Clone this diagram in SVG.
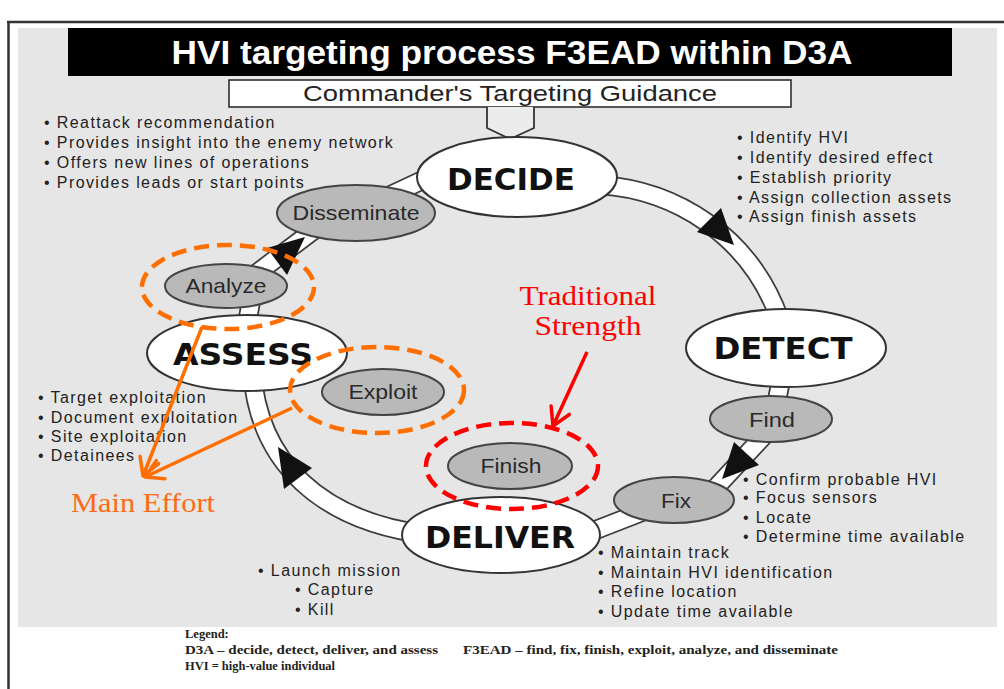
<svg xmlns="http://www.w3.org/2000/svg" width="1004" height="689" viewBox="0 0 1004 689">
<defs>
<style>
.band-o{fill:none;stroke:#3c3c3c;stroke-width:20}
.band-i{fill:none;stroke:#fff;stroke-width:16.5}
.tri{fill:#111}
.big{fill:#fff;stroke:#333;stroke-width:2}
.small{fill:#b9b9b9;stroke:#444;stroke-width:2}
.bl{font-family:"DejaVu Sans","Liberation Sans",sans-serif;font-weight:bold;font-size:30px;fill:#111;text-anchor:middle}
.sl{font-family:"Liberation Sans",Arial,sans-serif;font-size:21px;fill:#2a2a2a;text-anchor:middle}
.li{font-family:"Liberation Sans",Arial,sans-serif;font-size:16px;fill:#222;letter-spacing:1.4px}
.or{fill:none;stroke:#ff6f00;stroke-width:4.5;stroke-dasharray:15 8}
.rd{fill:none;stroke:#f00;stroke-width:4.5;stroke-dasharray:15 8}
.oa{stroke:#ff6f00;stroke-width:3.5;fill:none}
.ra{stroke:#f00;stroke-width:3.5;fill:none}
.note{font-family:"Liberation Serif",Georgia,serif;font-size:27px}
.leg{font-family:"Liberation Serif","Times New Roman",serif;font-size:12.5px;font-weight:bold;fill:#222}
</style>
<marker id="ah-o" markerUnits="userSpaceOnUse" markerWidth="26" markerHeight="26" viewBox="0 0 26 26" refX="22" refY="12" orient="auto">
<path d="M4.7 2 L22 12 L4.7 22" fill="none" stroke="#ff6f00" stroke-width="3.5" stroke-linejoin="round" stroke-linecap="round"/>
</marker>
<marker id="ah-r" markerUnits="userSpaceOnUse" markerWidth="26" markerHeight="26" viewBox="0 0 26 26" refX="22" refY="12" orient="auto">
<path d="M4.7 2 L22 12 L4.7 22" fill="none" stroke="#f00" stroke-width="3.5" stroke-linejoin="round" stroke-linecap="round"/>
</marker>
</defs>

<rect x="0" y="0" width="1004" height="689" fill="#fff"/>
<rect x="18" y="28" width="979" height="599" fill="#e6e6e6"/>
<path d="M7 22 H1004 M8.5 21 V689" stroke="#333" stroke-width="2.5" fill="none"/>

<g id="title">
<rect x="68" y="28" width="884" height="48" fill="#000"/>
<text x="512" y="64" text-anchor="middle" font-family="Liberation Sans, Arial, sans-serif" font-weight="bold" font-size="34" fill="#fff" textLength="681" lengthAdjust="spacingAndGlyphs">HVI targeting process F3EAD within D3A</text>
</g>

<g id="guidance">
<rect x="229" y="80" width="562" height="27" fill="#fff" stroke="#222" stroke-width="1.5"/>
<text x="510" y="101" text-anchor="middle" font-family="Liberation Sans, Arial, sans-serif" font-size="22" fill="#222" textLength="414" lengthAdjust="spacingAndGlyphs">Commander's Targeting Guidance</text>
<polygon points="487,107 487,128 510,139 534,128 534,107" fill="#ececec"/>
<polyline points="487,107 487,128 510,139 534,128 534,107" fill="none" stroke="#333" stroke-width="1.8"/>
</g>

<g id="connectors">
<path class="band-o" d="M600 185 C675 190 750 235 780 320"/>
<path class="band-i" d="M600 185 C675 190 750 235 780 320"/>
<path class="band-o" d="M782 375 L776 405"/>
<path class="band-i" d="M782 375 L776 405"/>
<path class="band-o" d="M785 413 L695 510"/>
<path class="band-i" d="M785 413 L695 510"/>
<path class="band-o" d="M570 540 L660 505"/>
<path class="band-i" d="M570 540 L660 505"/>
<path class="band-o" d="M430 535 C320 522 258 462 252 370"/>
<path class="band-i" d="M430 535 C320 522 258 462 252 370"/>
<path class="band-o" d="M246 330 L252 295"/>
<path class="band-i" d="M246 330 L252 295"/>
<path class="band-o" d="M245 282 L330 218"/>
<path class="band-i" d="M245 282 L330 218"/>
<path class="band-o" d="M380 200 L440 172"/>
<path class="band-i" d="M380 200 L440 172"/>
<polygon class="tri" points="734,245 697,232 721,208"/>
<polygon class="tri" points="722,479 734,442 759,465"/>
<polygon class="tri" points="278,447 312,468 284,489"/>
<polygon class="tri" points="305,237 267,248 287,275"/>
</g>

<g id="decide">
<ellipse class="big" cx="517" cy="177" rx="100" ry="40"/>
<text class="bl" x="511" y="190" textLength="128" lengthAdjust="spacingAndGlyphs">DECIDE</text>
</g>
<g id="detect">
<ellipse class="big" cx="786" cy="348" rx="100" ry="39"/>
<text class="bl" x="783" y="359" textLength="139" lengthAdjust="spacingAndGlyphs">DETECT</text>
</g>
<g id="assess">
<ellipse class="big" cx="247" cy="353" rx="100" ry="38"/>
<text class="bl" x="243" y="365" textLength="140" lengthAdjust="spacingAndGlyphs">ASSESS</text>
</g>
<g id="deliver">
<ellipse class="big" cx="501" cy="535" rx="99" ry="38"/>
<text class="bl" x="500" y="548" textLength="150" lengthAdjust="spacingAndGlyphs">DELIVER</text>
</g>

<g id="disseminate">
<ellipse class="small" cx="356" cy="213" rx="79" ry="28"/>
<text class="sl" x="356" y="220" textLength="127" lengthAdjust="spacingAndGlyphs">Disseminate</text>
</g>
<g id="analyze">
<ellipse class="small" cx="226" cy="286" rx="61" ry="22"/>
<text class="sl" x="226" y="293" textLength="81" lengthAdjust="spacingAndGlyphs">Analyze</text>
</g>
<g id="exploit">
<ellipse class="small" cx="383" cy="392" rx="61" ry="23"/>
<text class="sl" x="383" y="399" textLength="69" lengthAdjust="spacingAndGlyphs">Exploit</text>
</g>
<g id="finish">
<ellipse class="small" cx="510" cy="466" rx="62" ry="23"/>
<text class="sl" x="511" y="473" textLength="61" lengthAdjust="spacingAndGlyphs">Finish</text>
</g>
<g id="fix">
<ellipse class="small" cx="674" cy="500" rx="60" ry="23"/>
<text class="sl" x="676" y="508" textLength="30" lengthAdjust="spacingAndGlyphs">Fix</text>
</g>
<g id="find">
<ellipse class="small" cx="771" cy="419" rx="61" ry="23"/>
<text class="sl" x="772" y="427" textLength="46" lengthAdjust="spacingAndGlyphs">Find</text>
</g>

<g id="assess-notes">
<text class="li" x="44" y="128">• Reattack recommendation</text>
<text class="li" x="44" y="148">• Provides insight into the enemy network</text>
<text class="li" x="44" y="168">• Offers new lines of operations</text>
<text class="li" x="44" y="188">• Provides leads or start points</text>
</g>
<g id="decide-notes">
<text class="li" x="737" y="143">• Identify HVI</text>
<text class="li" x="737" y="163">• Identify desired effect</text>
<text class="li" x="737" y="183">• Establish priority</text>
<text class="li" x="737" y="203">• Assign collection assets</text>
<text class="li" x="737" y="222">• Assign finish assets</text>
</g>
<g id="exploit-notes">
<text class="li" x="38" y="403">• Target exploitation</text>
<text class="li" x="38" y="423">• Document exploitation</text>
<text class="li" x="38" y="442">• Site exploitation</text>
<text class="li" x="38" y="461">• Detainees</text>
</g>
<g id="find-notes">
<text class="li" x="743" y="485">• Confirm probable HVI</text>
<text class="li" x="743" y="503">• Focus sensors</text>
<text class="li" x="743" y="523">• Locate</text>
<text class="li" x="743" y="542">• Determine time available</text>
</g>
<g id="fix-notes">
<text class="li" x="598" y="558">• Maintain track</text>
<text class="li" x="598" y="578">• Maintain HVI identification</text>
<text class="li" x="598" y="597">• Refine location</text>
<text class="li" x="598" y="617">• Update time available</text>
</g>
<g id="finish-notes">
<text class="li" x="258" y="576">• Launch mission</text>
<text class="li" x="295" y="595">• Capture</text>
<text class="li" x="295" y="615">• Kill</text>
</g>

<g id="legend">
<text class="leg" x="185" y="638">Legend:</text>
<text class="leg" x="185" y="654" textLength="253" lengthAdjust="spacingAndGlyphs">D3A – decide, detect, deliver, and assess</text>
<text class="leg" x="463" y="654" textLength="375" lengthAdjust="spacingAndGlyphs">F3EAD – find, fix, finish, exploit, analyze, and disseminate</text>
<text class="leg" x="185" y="670" textLength="150" lengthAdjust="spacingAndGlyphs">HVI = high-value individual</text>
</g>

<g id="highlights">
<ellipse class="or" cx="228" cy="287" rx="86" ry="42"/>
<ellipse class="or" cx="377" cy="390" rx="87" ry="43"/>
<ellipse class="rd" cx="512" cy="466" rx="86" ry="43"/>
<line class="oa" x1="202" y1="327" x2="143" y2="476" marker-end="url(#ah-o)"/>
<line class="oa" x1="292" y1="408" x2="145" y2="477" marker-end="url(#ah-o)"/>
<line class="ra" x1="587" y1="352" x2="553" y2="426" marker-end="url(#ah-r)"/>
<text class="note" x="143" y="512" text-anchor="middle" fill="#ff6a13" textLength="144" lengthAdjust="spacingAndGlyphs">Main Effort</text>
<text class="note" x="588" y="305" text-anchor="middle" fill="#f00" textLength="137" lengthAdjust="spacingAndGlyphs">Traditional</text>
<text class="note" x="588" y="335" text-anchor="middle" fill="#f00" textLength="107" lengthAdjust="spacingAndGlyphs">Strength</text>
</g>
</svg>
